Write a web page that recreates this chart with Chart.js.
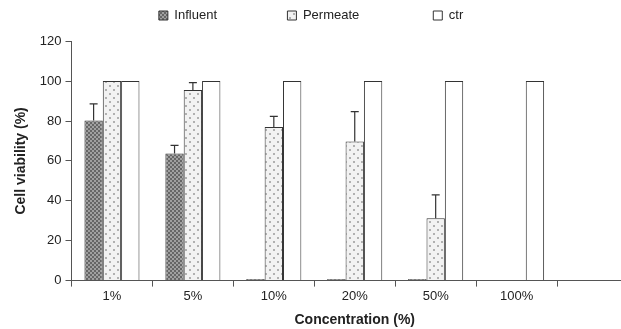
<!DOCTYPE html>
<html>
<head>
<meta charset="utf-8">
<script src="https://cdn.jsdelivr.net/npm/chart.js@4/dist/chart.umd.min.js"></script>
<style>
  html, body { margin: 0; padding: 0; background: #fff; overflow: hidden; }
  #wrap { width: 650px; height: 329px; }
</style>
</head>
<body>
<div id="wrap"><canvas id="chart"></canvas></div>
<script>
const categories = ["1%", "5%", "10%", "20%", "50%", "100%", ""];
const influent = [80.3, 63.7, 0.8, 0.8, 0.8, 0, null];
const influentErr = [8.3, 4.1, 0, 0, 0, 0, null];
const permeate = [100, 95.5, 77, 69.7, 31.2, 0, null];
const permeateErr = [0, 3.7, 5.3, 15, 11.8, 0, null];
const ctr = [100, 100, 100, 100, 100, 100, null];
const yTicks = [0, 20, 40, 60, 80, 100, 120];

// hatch fills
function makePattern(kind) {
  const c = document.createElement("canvas");
  const ctx = c.getContext("2d");
  if (kind === "influent") {
    c.width = 4; c.height = 4;
    ctx.fillStyle = "#a0a0a0";
    ctx.fillRect(0, 0, 4, 4);
    ctx.fillStyle = "#666";
    ctx.fillRect(0, 0, 2, 2);
    ctx.fillRect(2, 2, 2, 2);
  } else {
    c.width = 8; c.height = 8;
    ctx.fillStyle = "#f2f2f2";
    ctx.fillRect(0, 0, 8, 8);
    ctx.fillStyle = "#b0b0b0";
    ctx.fillRect(1, 1, 2, 2);
    ctx.fillRect(5, 5, 2, 2);
  }
  return ctx.createPattern(c, "repeat");
}

const errorBars = {
  id: "errorBars",
  afterDatasetsDraw(chart) {
    const ctx = chart.ctx;
    const y = chart.scales.y;
    ctx.save();
    ctx.strokeStyle = "#333";
    ctx.lineWidth = 1.2;
    chart.data.datasets.forEach((ds, i) => {
      if (!ds.err) return;
      chart.getDatasetMeta(i).data.forEach((bar, j) => {
        const e = ds.err[j];
        if (!e) return;
        const top = y.getPixelForValue(ds.data[j]);
        const end = y.getPixelForValue(ds.data[j] + e);
        ctx.beginPath();
        ctx.moveTo(bar.x, top);
        ctx.lineTo(bar.x, end);
        ctx.moveTo(bar.x - 4, end);
        ctx.lineTo(bar.x + 4, end);
        ctx.stroke();
      });
    });
    ctx.restore();
  }
};

// spaces to spread the legend items like the original
const gaps = ["                 ", "                  ", "        "];

new Chart(document.getElementById("chart"), {
  type: "bar",
  data: {
    labels: categories,
    datasets: [
      { label: "Influent", data: influent, err: influentErr, backgroundColor: makePattern("influent") },
      { label: "Permeate", data: permeate, err: permeateErr, backgroundColor: makePattern("permeate") },
      { label: "ctr", data: ctr, backgroundColor: "#ffffff" }
    ]
  },
  options: {
    responsive: true,
    maintainAspectRatio: false,
    animation: false,
    layout: { padding: { top: 0, left: 13, right: 12, bottom: 0 } },
    datasets: {
      bar: {
        borderColor: "#333",
        borderWidth: 1,
        categoryPercentage: 0.68,
        barPercentage: 1
      }
    },
    plugins: {
      // empty title used as a spacer under the legend
      title: { display: true, text: " ", weight: 500, font: { size: 1 }, padding: { top: 0, bottom: 8 } },
      legend: {
        position: "top",
        labels: {
          boxWidth: 9,
          boxHeight: 9,
          padding: 9,
          color: "#222",
          font: { family: "Liberation Sans, Arial", size: 13 },
          generateLabels(chart) {
            const items = Chart.defaults.plugins.legend.labels.generateLabels(chart);
            items.forEach((it, k) => { it.text = it.text + gaps[k]; it.strokeStyle = "#333"; it.lineWidth = 1; });
            return items;
          }
        }
      },
      tooltip: { enabled: false }
    },
    scales: {
      x: {
        border: { color: "#555", width: 1 },
        grid: { drawOnChartArea: false, drawTicks: true, tickLength: 6, color: "#555" },
        ticks: { color: "#222", font: { family: "Liberation Sans, Arial", size: 13 }, padding: 2, maxRotation: 0 },
        title: {
          display: true,
          text: "Concentration (%)",
          color: "#222",
          font: { family: "Liberation Sans, Arial", size: 14, weight: "bold" },
          padding: { top: 6, bottom: 0 }
        }
      },
      y: {
        min: 0,
        max: 120,
        afterBuildTicks: (s) => { s.ticks = yTicks.map(v => ({ value: v })); },
        border: { color: "#555", width: 1 },
        grid: { drawOnChartArea: false, drawTicks: true, tickLength: 6, color: "#555" },
        ticks: { color: "#222", font: { family: "Liberation Sans, Arial", size: 13 }, padding: 4 },
        title: {
          display: true,
          text: "Cell viability (%)",
          color: "#222",
          font: { family: "Liberation Sans, Arial", size: 14, weight: "bold" },
          padding: { top: 0, bottom: 6 }
        }
      }
    }
  },
  plugins: [errorBars]
});
</script>
</body>
</html>
